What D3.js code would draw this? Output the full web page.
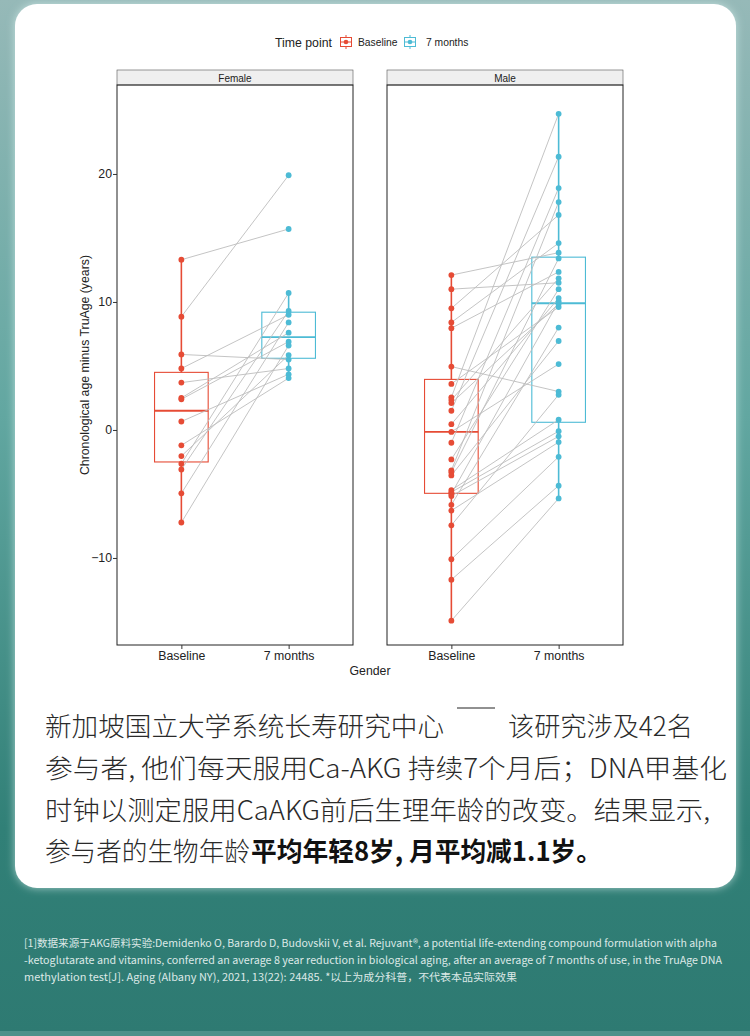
<!DOCTYPE html>
<html>
<head>
<meta charset="utf-8">
<script src="https://cdn.jsdelivr.net/npm/d3@7"></script>
<style>
  html, body { margin: 0; padding: 0; background: #2e7a72; }
  svg { display: block; }
</style>
</head>
<body>
<div id="chart"></div>
<script>
// ---- data ----------------------------------------------------------------
var timePoints = ['Baseline', '7 months'];
var panelNames = ['Female', 'Male'];
var yTicks = [-10, 0, 10, 20];

// paired by index: baseline[i] -> month7[i]
var femaleBaseline = [13.3, 8.85, 5.9, 4.8, 3.7, 2.5, 2.4, 0.66, -1.2, -2.04, -2.64, -3.09, -4.95, -7.23];
var femaleMonth7 = [15.7, 19.9, 5.5, 9.0, 4.8, 7.6, 6.9, 4.35, 4.05, 5.85, 10.7, 9.3, 8.4, 6.6];

var maleBaseline = [12.1, 11.0, 9.5, 8.4, 7.95, 4.95, 3.6, 2.55, 2.34, 2.1, 1.5, 0.45, -0.15, -1.0,
  -2.3, -3.15, -3.3, -3.55, -4.7, -4.86, -5.0, -5.16, -5.85, -6.3, -7.45, -10.1, -11.7, -14.9];
var maleMonth7 = [13.85, 11.5, 16.8, 14.6, 12.35, 3.0, 9.6, 24.7, 11.85, 9.85, 21.35, 10.3, 5.15, 18.9,
  11.0, 17.8, 13.4, 6.95, 0.8, -0.1, 10.05, -0.5, 8.0, -0.95, 2.75, -2.1, -4.35, -5.35];

// box stats: [lower whisker, q1, median, q3, upper whisker]
var femaleBaselineBox = [-7.23, -2.5, 1.5, 4.5, 13.3];
var femaleMonth7Box = [4.05, 5.6, 7.25, 9.2, 10.7];
var maleBaselineBox = [-14.9, -4.95, -0.15, 3.95, 12.1];
var maleMonth7Box = [-5.35, 0.6, 9.9, 13.5, 24.7];

var footLines = [
  '[1]数据来源于AKG原料实验:Demidenko O, Barardo D, Budovskii V, et al. Rejuvant®, a potential life-extending compound formulation with alpha',
  '-ketoglutarate and vitamins, conferred an average 8 year reduction in biological aging, after an average of 7 months of use, in the TruAge DNA',
  'methylation test[J]. Aging (Albany NY), 2021, 13(22): 24485.  *以上为成分科普，不代表本品实际效果'
];

// ---- layout ---------------------------------------------------------------
var W = 750, H = 1036;
var RED = '#e64b35', TEAL = '#4dbbd5';
var colors = [RED, TEAL];
var panelLeft = [117, 387], panelW = 236;
var stripTop = 70, panelTop = 85, panelBottom = 645;
var CHART_FONT = '"Liberation Sans", Arial, sans-serif';
var CJK_FONT = '"Noto Sans CJK SC", "Noto Sans", sans-serif';
var AXIS_SIZE = 12.3;

var panels = [
  { name: panelNames[0], base: femaleBaseline, m7: femaleMonth7, boxes: [femaleBaselineBox, femaleMonth7Box] },
  { name: panelNames[1], base: maleBaseline, m7: maleMonth7, boxes: [maleBaselineBox, maleMonth7Box] }
];

var svg = d3.select('#chart').append('svg')
  .attr('width', W).attr('height', H)
  .attr('viewBox', '0 0 ' + W + ' ' + H);

var defs = svg.append('defs');
var grad = defs.append('linearGradient').attr('id', 'bg').attr('x1', 0).attr('y1', 0).attr('x2', 0).attr('y2', 1);
grad.append('stop').attr('offset', '0%').attr('stop-color', '#96b9b8');
grad.append('stop').attr('offset', '40%').attr('stop-color', '#62a7a1');
grad.append('stop').attr('offset', '80%').attr('stop-color', '#318077');
grad.append('stop').attr('offset', '100%').attr('stop-color', '#2e7a72');
var shadow = defs.append('filter').attr('id', 'glow').attr('x', '-5%').attr('y', '-5%').attr('width', '110%').attr('height', '110%');
shadow.append('feGaussianBlur').attr('in', 'SourceAlpha').attr('stdDeviation', 4).attr('result', 'b');
shadow.append('feFlood').attr('flood-color', '#d8f0ee').attr('flood-opacity', 0.7);
shadow.append('feComposite').attr('in2', 'b').attr('operator', 'in');
var fm = shadow.append('feMerge');
fm.append('feMergeNode');
fm.append('feMergeNode').attr('in', 'SourceGraphic');

svg.append('rect').attr('width', W).attr('height', H).attr('fill', 'url(#bg)');
svg.append('rect').attr('x', 0).attr('y', H - 5).attr('width', W).attr('height', 5).attr('fill', '#4d918a');

// white card
svg.append('rect')
  .attr('x', 15).attr('y', 4).attr('width', 721).attr('height', 884)
  .attr('rx', 22).attr('fill', '#fff').attr('filter', 'url(#glow)');

// ---- scales ---------------------------------------------------------------
var y = d3.scaleLinear().domain([-16.8, 26.95]).range([panelBottom, panelTop]);
var x = d3.scalePoint().domain(timePoints).range([0, panelW]).padding(0.6);
var boxW = x.step() * 0.5;

// ---- legend ---------------------------------------------------------------
var legend = svg.append('g').attr('font-family', CHART_FONT);
legend.append('text').attr('x', 275).attr('y', 47).attr('font-size', AXIS_SIZE).attr('fill', '#222').text('Time point');

function legendKey(g, cx, color) {
  g.append('line').attr('x1', cx).attr('x2', cx).attr('y1', 35).attr('y2', 49).attr('stroke', color).attr('stroke-width', 1);
  g.append('rect').attr('x', cx - 5.5).attr('y', 37.5).attr('width', 11).attr('height', 9)
    .attr('fill', '#fff').attr('stroke', color).attr('stroke-width', 1);
  g.append('line').attr('x1', cx - 5.5).attr('x2', cx + 5.5).attr('y1', 42).attr('y2', 42).attr('stroke', color);
  g.append('circle').attr('cx', cx).attr('cy', 42).attr('r', 2.3).attr('fill', color);
}
legendKey(legend, 346, RED);
legend.append('text').attr('x', 358).attr('y', 46).attr('font-size', 10.3).attr('fill', '#222').text(timePoints[0]);
legendKey(legend, 410, TEAL);
legend.append('text').attr('x', 426).attr('y', 46).attr('font-size', 10.3).attr('fill', '#222').text(timePoints[1]);

// ---- panels ---------------------------------------------------------------
panels.forEach(function (p, pi) {
  var g = svg.append('g').attr('transform', 'translate(' + panelLeft[pi] + ',0)');

  // strip
  g.append('rect').attr('x', 0).attr('y', stripTop).attr('width', panelW).attr('height', panelTop - stripTop)
    .attr('fill', '#efefef').attr('stroke', '#555').attr('stroke-width', 0.6);
  g.append('text').attr('x', panelW / 2).attr('y', stripTop + 11.5)
    .attr('text-anchor', 'middle').attr('font-family', CHART_FONT).attr('font-size', 10).attr('fill', '#222')
    .text(p.name);

  // boxes
  p.boxes.forEach(function (b, bi) {
    var cx = x(timePoints[bi]);
    var col = colors[bi];
    var bg = g.append('g').attr('stroke', col).attr('stroke-width', 1.1).attr('fill', 'none');
    bg.append('line').attr('x1', cx).attr('x2', cx).attr('y1', y(b[4])).attr('y2', y(b[3])).attr('stroke-width', 1.6);
    bg.append('line').attr('x1', cx).attr('x2', cx).attr('y1', y(b[1])).attr('y2', y(b[0])).attr('stroke-width', 1.6);
    bg.append('rect').attr('x', cx - boxW / 2).attr('y', y(b[3])).attr('width', boxW).attr('height', y(b[1]) - y(b[3]));
    bg.append('line').attr('x1', cx - boxW / 2).attr('x2', cx + boxW / 2).attr('y1', y(b[2])).attr('y2', y(b[2])).attr('stroke-width', 1.8);
  });

  // paired lines
  var pairs = p.base.map(function (v, i) { return [v, p.m7[i]]; });
  g.selectAll('line.pair').data(pairs).join('line')
    .attr('class', 'pair')
    .attr('x1', x(timePoints[0])).attr('x2', x(timePoints[1]))
    .attr('y1', function (d) { return y(d[0]); })
    .attr('y2', function (d) { return y(d[1]); })
    .attr('stroke', '#bdbdbd').attr('stroke-width', 0.9);

  // points
  [p.base, p.m7].forEach(function (vals, vi) {
    g.selectAll('circle.pt' + vi).data(vals).join('circle')
      .attr('class', 'pt' + vi)
      .attr('cx', x(timePoints[vi]))
      .attr('cy', function (d) { return y(d); })
      .attr('r', 2.9)
      .attr('fill', colors[vi]);
  });

  // panel border
  g.append('rect').attr('x', 0).attr('y', panelTop).attr('width', panelW).attr('height', panelBottom - panelTop)
    .attr('fill', 'none').attr('stroke', '#222').attr('stroke-width', 1);

  // x axis
  var xa = g.append('g').attr('transform', 'translate(0,' + panelBottom + ')')
    .call(d3.axisBottom(x).tickSize(4).tickSizeOuter(0));
  xa.select('.domain').remove();
  xa.selectAll('line').attr('stroke', '#333');
  xa.selectAll('text').attr('font-family', CHART_FONT).attr('font-size', AXIS_SIZE).attr('fill', '#222').attr('dy', '0.75em').attr('y', 6);

  if (pi === 0) {
    var ya = g.append('g').call(d3.axisLeft(y).tickValues(yTicks).tickSize(4).tickFormat(d3.format('d')));
    ya.select('.domain').remove();
    ya.selectAll('line').attr('stroke', '#333');
    ya.selectAll('text').attr('font-family', CHART_FONT).attr('font-size', AXIS_SIZE).attr('fill', '#222').attr('x', -5);
  }
});

svg.append('text')
  .attr('transform', 'translate(89,' + ((panelTop + panelBottom) / 2) + ') rotate(-90)')
  .attr('text-anchor', 'middle').attr('font-family', CHART_FONT).attr('font-size', AXIS_SIZE).attr('fill', '#222')
  .text('Chronological age minus TruAge (years)');

svg.append('text')
  .attr('x', (panelLeft[0] + panelLeft[1] + panelW) / 2).attr('y', 675)
  .attr('text-anchor', 'middle').attr('font-family', CHART_FONT).attr('font-size', AXIS_SIZE).attr('fill', '#222')
  .text('Gender');

// ---- paragraph ------------------------------------------------------------
var para = svg.append('g').attr('font-family', CJK_FONT).attr('font-size', 26.5).attr('fill', '#2a2a2a').attr('font-weight', 300);
para.append('text').attr('x', 45).attr('y', 736).attr('textLength', 399).attr('lengthAdjust', 'spacingAndGlyphs')
  .text('新加坡国立大学系统长寿研究中心');
para.append('text').attr('x', 508).attr('y', 736).attr('textLength', 185).attr('lengthAdjust', 'spacingAndGlyphs')
  .text('该研究涉及42名');
para.append('line').attr('x1', 457).attr('x2', 495).attr('y1', 708).attr('y2', 708).attr('stroke', '#222').attr('stroke-width', 1);
para.append('text').attr('x', 45).attr('y', 778).attr('textLength', 682).attr('lengthAdjust', 'spacingAndGlyphs')
  .text('参与者, 他们每天服用Ca-AKG 持续7个月后；DNA甲基化');
para.append('text').attr('x', 45).attr('y', 820).attr('textLength', 665).attr('lengthAdjust', 'spacingAndGlyphs')
  .text('时钟以测定服用CaAKG前后生理年龄的改变。结果显示,');
var p4a = para.append('text').attr('x', 45).attr('y', 861).attr('textLength', 205).attr('lengthAdjust', 'spacingAndGlyphs')
  .text('参与者的生物年龄');
para.append('text').attr('x', 251).attr('y', 861).attr('textLength', 351).attr('lengthAdjust', 'spacingAndGlyphs')
  .attr('font-weight', 700).attr('fill', '#111')
  .text('平均年轻8岁, 月平均减1.1岁。');

// ---- footnote -------------------------------------------------------------
var footWidths = [693, 698, 493];
svg.append('g').attr('font-family', CJK_FONT).attr('font-size', 10.5).attr('fill', '#dde9e7')
  .selectAll('text').data(footLines).join('text')
  .attr('x', 24)
  .attr('y', function (d, i) { return 947 + i * 17; })
  .attr('textLength', function (d, i) { return footWidths[i]; })
  .attr('lengthAdjust', 'spacingAndGlyphs')
  .text(function (d) { return d; });
</script>
</body>
</html>
